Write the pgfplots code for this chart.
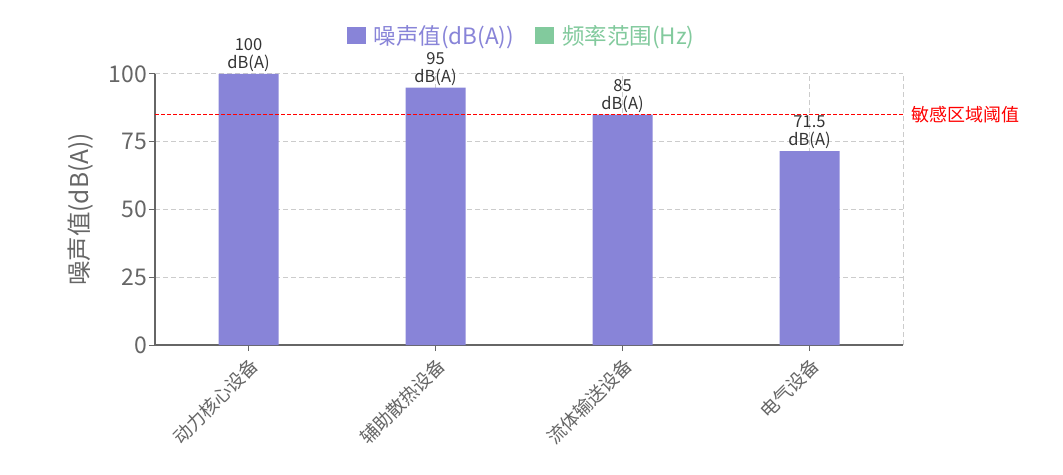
\documentclass[border=0pt]{standalone}
\usepackage{pgfplots}
\pgfplotsset{compat=1.18}
\usepackage{fontspec}
\setmainfont{Noto Sans CJK SC}
\definecolor{barpurple}{HTML}{8884D8}
\definecolor{bargreen}{HTML}{82CA9D}
\definecolor{axgray}{HTML}{666666}
\definecolor{gridgray}{HTML}{CCCCCC}
\definecolor{lblgray}{HTML}{333333}
\begin{document}
\begin{tikzpicture}
\useasboundingbox (0,0) rectangle (1063bp,475bp);
\begin{axis}[
  at={(155bp,130bp)}, anchor=south west,
  scale only axis, width=748bp, height=271bp,
  xmin=-0.5, xmax=3.5, ymin=0, ymax=100,
  ybar, bar width=60bp,
  xtick={0,1,2,3},
  xticklabels={动力核心设备,辅助散热设备,流体输送设备,电气设备},
  extra x ticks={3.5},
  extra x tick labels={},
  extra x tick style={major tick length=0pt, grid=major},
  ytick={0,25,50,75,100},
  axis x line*=bottom, axis y line*=left,
  axis line style={axgray, line width=1.3bp, -},
  tick style={axgray, line width=1bp},
  tick align=outside, major tick length=6bp,
  xmajorgrids, ymajorgrids,
  major grid style={gridgray, line width=1bp, dash pattern=on 5bp off 3bp},
  /pgf/number format/assume math mode=true,
  yticklabel style={font=\fontsize{23bp}{23bp}\selectfont, text=axgray, inner sep=2bp},
  xticklabel style={font=\fontsize{18.5bp}{18.5bp}\selectfont, text=axgray, rotate=45, anchor=north east},
  ylabel={噪声值(dB(A))},
  ylabel shift=10bp,
  ylabel style={font=\fontsize{24.5bp}{24.5bp}\selectfont, text=axgray},
  nodes near coords={\pgfmathprintnumber{\pgfplotspointmeta}\\dB(A)},
  nodes near coords style={font=\fontsize{16.5bp}{18bp}\selectfont, text=lblgray, align=center, inner sep=2bp},
  legend style={draw=none, at={(0.49,1.14)}, anchor=center, legend columns=2,
    font=\fontsize{22.5bp}{22.5bp}\selectfont,
    /tikz/every even column/.append style={column sep=19bp},
    /tikz/every odd column/.append style={column sep=0bp}},
  legend image code/.code={\fill[#1] (-3bp,-8bp) rectangle (16bp,9bp);},
  clip=false,
]
\addplot[fill=barpurple, draw=none] coordinates {(0,100) (1,95) (2,85) (3,71.5)};
\addlegendentry{\hspace*{6bp}\textcolor{barpurple}{噪声值(dB(A))}}
\addlegendimage{fill=bargreen, draw=none}
\addlegendentry{\hspace*{6bp}\textcolor{bargreen}{频率范围(Hz)}}
\addplot[sharp plot, red, line width=1.2bp, dash pattern=on 4bp off 2bp, forget plot, nodes near coords={}]
  coordinates {(-0.5,85) (3.5,85)}
  node[pos=1, right, font=\fontsize{18bp}{18bp}\selectfont, text=red, inner sep=8bp] {敏感区域阈值};
\end{axis}
\end{tikzpicture}
\end{document}
